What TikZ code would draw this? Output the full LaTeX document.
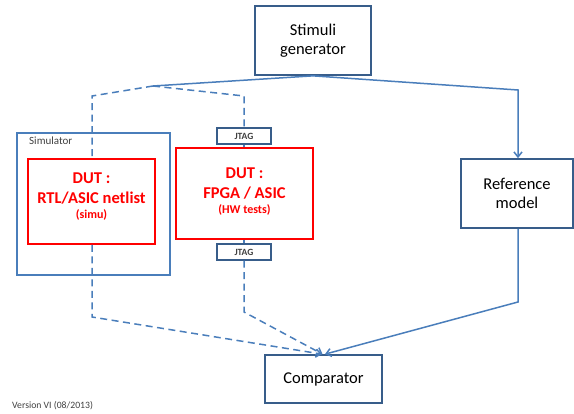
\documentclass[tikz,border=0pt]{standalone}
\usepackage{fontspec}
\setmainfont{Carlito}
\usetikzlibrary{arrows.meta}
\definecolor{lineblue}{HTML}{4A7EBB}
\definecolor{boxblue}{HTML}{385D8A}
\definecolor{dutred}{HTML}{FF0000}
\definecolor{txtgray}{HTML}{404040}
\tikzset{
  bluebox/.style={draw=boxblue, line width=1.7pt, fill=white, inner sep=0pt, align=center,
    font=\fontsize{16.5}{18.5}\selectfont, text=black},
  simbox/.style={draw=lineblue, line width=1.4pt, inner sep=0pt},
  dutbox/.style={draw=dutred, line width=1.7pt, fill=white, inner sep=0pt},
  duttext/.style={align=center, text=dutred, inner sep=0pt, font=\fontsize{16.5}{20}\selectfont\bfseries},
  jtagbox/.style={draw=boxblue, line width=1.5pt, fill=white, inner sep=0pt,
    minimum width=54pt, minimum height=16pt, font=\fontsize{9.5}{10}\selectfont\bfseries, text=txtgray},
  conn/.style={draw=lineblue, line width=1.5pt},
  dconn/.style={conn, dash pattern=on 7pt off 4.5pt},
  tip/.style={-{Straight Barb[length=5pt,width=8pt]}},
}
\newcommand{\smalldut}{\fontsize{12}{14}\selectfont}
\begin{document}
\begin{tikzpicture}[x=1pt,y=-1pt]
\useasboundingbox (0,0) rectangle (574,414);
% nodes
\node[bluebox, minimum width=116pt, minimum height=69pt] (stim) at (313,40.5) {Stimuli\\generator};
\node[simbox, minimum width=153pt, minimum height=142pt] (sim) at (93.5,204) {};
\node[anchor=north west, inner sep=0pt, text=txtgray, font=\fontsize{11}{12}\selectfont] (simlab) at (29,137) {Simulator};
\node[dutbox, minimum width=127pt, minimum height=85pt] (dut1) at (91.5,201.5) {};
\node[duttext] (dut1t) at (91.5,197) {DUT :\\RTL/ASIC netlist\\[-5pt]{\smalldut (simu)}};
\node[dutbox, minimum width=137pt, minimum height=91pt] (dut2) at (244.5,193.5) {};
\node[duttext] (dut2t) at (244.5,192) {DUT :\\FPGA / ASIC\\[-5pt]{\smalldut (HW tests)}};
\node[jtagbox] (jtag1) at (244,136) {JTAG};
\node[jtagbox] (jtag2) at (244,252) {JTAG};
\node[bluebox, minimum width=112pt, minimum height=69pt] (ref) at (517,193.5) {Reference\\model};
\node[bluebox, minimum width=117pt, minimum height=48pt] (comp) at (323.5,379) {Comparator};
\node[anchor=west, inner sep=0pt, text=txtgray, font=\fontsize{9.7}{11}\selectfont] (ver) at (12,405.5) {Version VI (08/2013)};
% helper coordinates
\coordinate (split) at (153,86);
\coordinate (l1) at (92,96);
\coordinate (l2) at (92,317);
\coordinate (r1) at (244,96);
\coordinate (r2) at (244,312);
\coordinate (f1) at (518,90);
\coordinate (f2) at (518,302);
% connectors
\draw[conn] (stim.south) -- (split);
\draw[dconn] (split) -- (l1) -- (l1 |- dut1.north);
\draw[dconn, tip] (l1 |- dut1.south) -- (l2) -- ([xshift=-1.5pt]comp.north);
\draw[dconn] (split) -- (r1) -- (jtag1.north);
\draw[conn] (jtag1.south) -- (jtag1.south |- dut2.north);
\draw[conn] (jtag2.north |- dut2.south) -- (jtag2.north);
\draw[dconn, tip] (jtag2.south) -- (r2) -- ([xshift=-1pt]comp.north);
\draw[conn, tip] (stim.south) -- (f1) -- (f1 |- ref.north);
\draw[conn, tip] (f1 |- ref.south) -- (f2) -- ([xshift=1.5pt]comp.north);
\end{tikzpicture}
\end{document}
